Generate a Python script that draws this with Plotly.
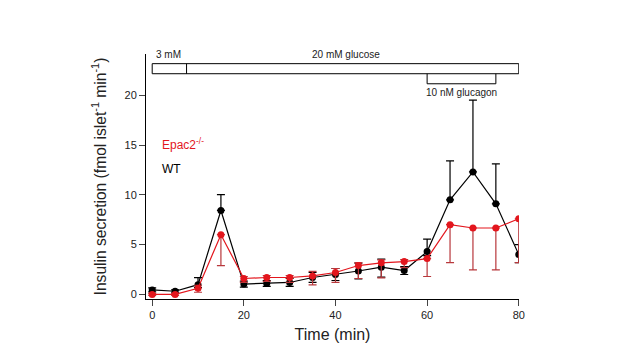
import plotly.graph_objects as go

time = [0, 5, 10, 15, 20, 25, 30, 35, 40, 45, 50, 55, 60, 65, 70, 75, 80]

wt = [0.45, 0.32, 0.98, 8.43, 1.04, 1.1, 1.2, 1.7, 2.0, 2.35, 2.74, 2.4, 4.3, 9.5, 12.3, 9.1, 4.0]
wt_err_plus = [0.2, 0.15, 0.7, 1.6, 0.3, 0.3, 0.4, 0.5, 0.6, 0.8, 0.8, 0.4, 1.25, 3.9, 7.2, 4.0, 1.0]
wt_err_minus = [0.2, 0.15, 0.3, 0.0, 0.3, 0.3, 0.4, 0.5, 0.6, 0.8, 1.0, 0.4, 0.4, 0.0, 0.0, 0.0, 0.8]

epac = [0.0, 0.0, 0.62, 6.0, 1.6, 1.7, 1.7, 1.86, 2.2, 2.9, 3.17, 3.3, 3.6, 7.0, 6.67, 6.67, 7.6]
epac_err_plus = [0.1, 0.1, 0.3, 0.0, 0.2, 0.2, 0.2, 0.45, 0.4, 0.3, 0.3, 0.2, 0.0, 0.0, 0.0, 0.0, 0.0]
epac_err_minus = [0.1, 0.1, 0.4, 3.1, 0.4, 0.4, 0.5, 0.9, 1.0, 1.3, 1.5, 0.6, 1.8, 3.8, 4.2, 4.2, 4.4]

x_ticks = [0, 20, 40, 60, 80]
y_ticks = [0, 5, 10, 15, 20]

RED = "#e3161d"
RED_ERR = "#b8383c"
FONT = "Liberation Sans, Arial, sans-serif"

fig = go.Figure()

fig.add_trace(go.Scatter(
    x=time, y=wt, mode="lines+markers",
    line=dict(color="black", width=1.2),
    marker=dict(color="black", size=7),
    error_y=dict(type="data", symmetric=False, array=wt_err_plus, arrayminus=wt_err_minus,
                 color="black", thickness=1.2, width=4),
    showlegend=False,
))
fig.add_trace(go.Scatter(
    x=time, y=epac, mode="lines+markers",
    line=dict(color=RED, width=1.2),
    marker=dict(color=RED, size=7),
    error_y=dict(type="data", symmetric=False, array=epac_err_plus, arrayminus=epac_err_minus,
                 color=RED_ERR, thickness=1.2, width=4),
    showlegend=False,
))

# Treatment bars
fig.add_shape(type="rect", x0=0, x1=80, y0=22.16, y1=23.17, line=dict(color="black", width=1))
fig.add_shape(type="line", x0=7.5, x1=7.5, y0=22.16, y1=23.17, line=dict(color="black", width=1))
fig.add_shape(type="path", path="M 60 22.16 L 60 21.15 L 75 21.15 L 75 22.16",
              line=dict(color="black", width=1))

ann_font = dict(family=FONT, size=10, color="#222")
fig.add_annotation(x=3.65, y=24.05, text="3 mM", showarrow=False, font=ann_font)
fig.add_annotation(x=42.3, y=24.05, text="20 mM glucose", showarrow=False, font=ann_font)
fig.add_annotation(x=67.6, y=20.3, text="10 nM glucagon", showarrow=False, font=ann_font)

fig.add_annotation(x=1.7, y=15.1, text="Epac2<sup>-/-</sup>", showarrow=False, xanchor="left",
                   font=dict(family=FONT, size=12, color=RED))
fig.add_annotation(x=1.7, y=12.6, text="WT", showarrow=False, xanchor="left",
                   font=dict(family=FONT, size=12, color="black"))

fig.update_layout(
    width=609, height=344,
    margin=dict(l=138, r=98, t=46, b=47),
    plot_bgcolor="white", paper_bgcolor="white",
    font=dict(family=FONT, color="#222"),
    xaxis=dict(range=[-1.35, 80.05], tickvals=x_ticks, ticks="outside", ticklen=6,
               showline=True, linecolor="black", linewidth=1, showgrid=False, zeroline=False,
               tickfont=dict(size=11, family=FONT),
               title=dict(text="Time (min)", font=dict(size=16, family=FONT), standoff=8)),
    yaxis=dict(range=[-0.46, 24.14], tickvals=y_ticks, ticks="outside", ticklen=6,
               showline=True, linecolor="black", linewidth=1, showgrid=False, zeroline=False,
               tickfont=dict(size=11, family=FONT),
               title=dict(text="Insulin secretion (fmol islet<sup>-1</sup> min<sup>-1</sup>)",
                          font=dict(size=15.6, family=FONT), standoff=14)),
)

fig.write_html("out.html")
